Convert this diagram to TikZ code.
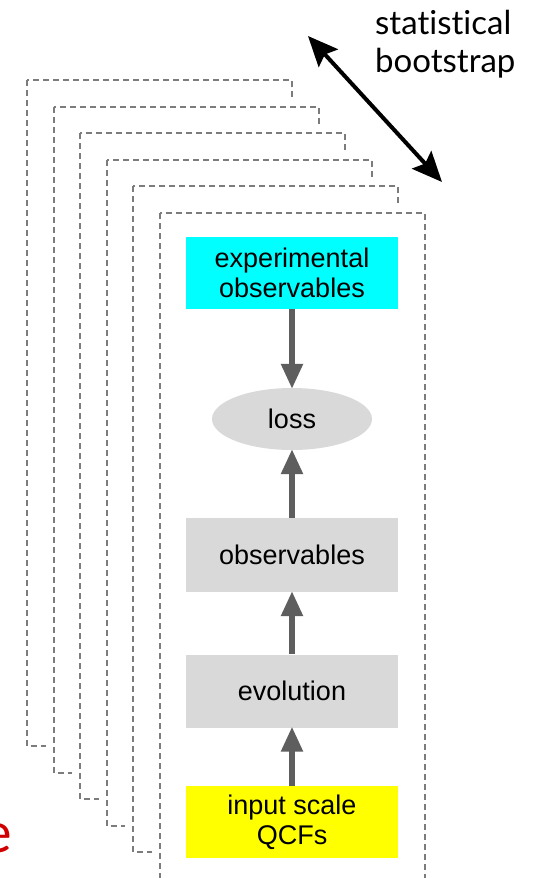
\documentclass[tikz,border=0pt]{standalone}
\usepackage{fontspec}
\setmainfont{Liberation Sans}
\newfontfamily\humanist[Ligatures={NoCommon}]{Lato}
\usetikzlibrary{arrows.meta,shapes.geometric}
\definecolor{framegray}{HTML}{7C7C7C}
\definecolor{boxgray}{HTML}{D9D9D9}
\definecolor{arrowgray}{HTML}{5E5E5E}
\definecolor{expcyan}{HTML}{00FFFF}
\definecolor{inyellow}{HTML}{FFFF00}
\definecolor{redtext}{HTML}{D00000}
\begin{document}
\begin{tikzpicture}[x=1pt,y=-1pt,
  frame/.style={draw=framegray,line width=2pt,dash pattern=on 6pt off 4pt},
  box/.style={rectangle,minimum width=212pt,inner sep=0pt,align=center,
    font=\fontsize{27}{30}\selectfont},
  garrow/.style={draw=arrowgray,line width=5.5pt,-{Triangle[length=25pt,width=21pt]},shorten >=-1pt},
  bsarrow/.style={draw=black,line width=4pt,{Stealth[length=30pt,width=26pt,inset=5pt]}-{Stealth[length=30pt,width=26pt,inset=5pt]}}
]
\useasboundingbox (0,0) rectangle (540,878);
% stacked dashed frames (back to front)
\foreach \i in {0,...,5} {
  \pgfmathsetmacro\xa{27+26.6*\i}
  \pgfmathsetmacro\ya{80+26.6*\i}
  \fill[white] (\xa-8,\ya-9) rectangle (\xa+265,\ya+666);
  \draw[frame] (\xa,\ya) rectangle (\xa+265,\ya+666);
}
% nodes
\node[box,fill=expcyan,minimum height=72pt] (exp) at (292,273) {experimental\\observables};
\node[ellipse,fill=boxgray,minimum width=160pt,minimum height=62pt,inner sep=0pt,
  font=\fontsize{27}{30}\selectfont] (loss) at (292,419) {loss};
\node[box,fill=boxgray,minimum height=74pt] (obs) at (292,555) {observables};
\node[box,fill=boxgray,minimum height=73pt] (evo) at (292,691) {evolution};
\node[box,fill=inyellow,minimum height=72pt] (inp) at (292,822) {input scale\\QCFs};
% connectors
\draw[garrow] (exp) -- (loss);
\draw[garrow] (obs) -- (loss);
\draw[garrow] (evo) -- (obs);
\draw[garrow] (inp) -- (evo);
% bootstrap arrow and label
\coordinate (bsA) at (308,36);
\coordinate (bsB) at (442,182);
\draw[bsarrow] (bsA) -- (bsB);
\node[anchor=north west,inner sep=0pt,align=left,
  font=\humanist\fontsize{33}{38}\selectfont] (bslabel) at (375,10) {statistical\\bootstrap};
% cut-off red letter
\node[anchor=base east,inner sep=0pt,text=redtext,
  font=\humanist\fontsize{56}{60}\selectfont] (rede) at (12,852) {e};
\end{tikzpicture}
\end{document}
